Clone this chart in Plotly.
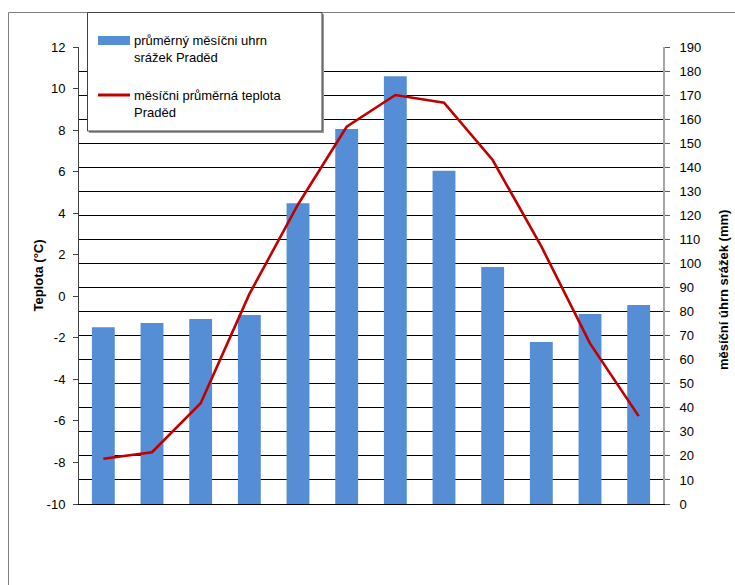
import plotly.graph_objects as go

# Monthly climate normals for Praděd
months = ["I", "II", "III", "IV", "V", "VI", "VII", "VIII", "IX", "X", "XI", "XII"]
precip_mm = [73.5, 75.3, 76.9, 78.6, 125.0, 155.9, 177.8, 138.5, 98.5, 67.4, 79.0, 82.7]
temp_c = [-7.82, -7.51, -5.15, 0.1, 4.42, 8.16, 9.69, 9.32, 6.56, 2.4, -2.27, -5.77]

temp_ticks = [-10, -8, -6, -4, -2, 0, 2, 4, 6, 8, 10, 12]
temp_tick_text = ["-10", "-8", "-6", "-4", "-2", "0", "2", "4", "6", "8", "10", "12"]

precip_label = "průměrný měsíčni uhrn srážek Praděd"
temp_label = "měsíčni průměrná teplota Praděd"

W, H = 735, 585
ML, MR, MT, MB = 79, 72, 47, 81
PW, PH = W - ML - MR, H - MT - MB

BAR_COLOR = "#558ed5"
LINE_COLOR = "#c00000"
FONT = "Liberation Sans, Arial, sans-serif"


def px_x(p):
    return (p - ML) / PW


def px_y(p):
    return (H - MB - p) / PH


fig = go.Figure()

fig.add_trace(go.Bar(
    x=months, y=precip_mm, name=precip_label,
    marker=dict(color=BAR_COLOR, line=dict(width=0)),
    width=0.47, yaxis="y", showlegend=False,
))

fig.add_trace(go.Scatter(
    x=months, y=temp_c, name=temp_label, mode="lines",
    line=dict(color=LINE_COLOR, width=2.6), yaxis="y2", showlegend=False,
))

shapes = [
    # outer chart frame
    dict(type="rect", xref="paper", yref="paper",
         x0=px_x(8.5), x1=px_x(745), y0=px_y(595), y1=px_y(12.5),
         line=dict(color="#7f7f7f", width=1), fillcolor="rgba(0,0,0,0)", layer="below"),
    # legend box with shadow
    dict(type="rect", xref="paper", yref="paper",
         x0=px_x(89), x1=px_x(324), y0=px_y(133), y1=px_y(14),
         line=dict(width=0), fillcolor="#9a9a9a", layer="above"),
    dict(type="rect", xref="paper", yref="paper",
         x0=px_x(87.5), x1=px_x(322), y0=px_y(131), y1=px_y(12.5),
         line=dict(color="#404040", width=1), fillcolor="white", layer="above"),
    # legend swatches
    dict(type="rect", xref="paper", yref="paper",
         x0=px_x(98), x1=px_x(130), y0=px_y(45), y1=px_y(36),
         line=dict(width=0), fillcolor=BAR_COLOR, layer="above"),
    dict(type="line", xref="paper", yref="paper",
         x0=px_x(98), x1=px_x(130), y0=px_y(95), y1=px_y(95),
         line=dict(color=LINE_COLOR, width=3), layer="above"),
]

annotations = [
    dict(xref="paper", yref="paper", x=px_x(132), y=px_y(49),
         text="průměrný měsíčni uhrn<br>srážek Praděd", showarrow=False,
         xanchor="left", yanchor="middle", align="left",
         font=dict(family=FONT, size=13, color="black")),
    dict(xref="paper", yref="paper", x=px_x(132), y=px_y(104),
         text="měsíčni průměrná teplota<br>Praděd", showarrow=False,
         xanchor="left", yanchor="middle", align="left",
         font=dict(family=FONT, size=13, color="black")),
    # right axis title
    dict(xref="paper", yref="paper", x=px_x(723), y=px_y(290),
         text="<b>měsíční úhrn srážek (mm)</b>", showarrow=False, textangle=-90,
         xanchor="center", yanchor="middle",
         font=dict(family=FONT, size=13, color="black")),
]

fig.update_layout(
    width=W, height=H,
    margin=dict(l=ML, r=MR, t=MT, b=MB, pad=0),
    paper_bgcolor="white", plot_bgcolor="white",
    font=dict(family=FONT, size=13, color="black"),
    showlegend=False,
    shapes=shapes, annotations=annotations,
    xaxis=dict(
        type="category", range=[-0.5, 11.5],
        showticklabels=False, ticks="", showgrid=False,
        showline=True, linecolor="black", linewidth=1, zeroline=False,
    ),
    yaxis=dict(
        side="right", range=[0, 190], dtick=10, tick0=0,
        showgrid=True, gridcolor="black", gridwidth=1,
        showline=True, linecolor="#a6a6a6", linewidth=2,
        ticks="outside", ticklen=5, tickcolor="#595959",
        ticklabelstandoff=7, zeroline=False,
    ),
    yaxis2=dict(
        side="left", overlaying="y", range=[-10, 12],
        tickmode="array", tickvals=temp_ticks, ticktext=temp_tick_text,
        showgrid=False, zeroline=False,
        showline=True, linecolor="#404040", linewidth=1,
        ticks="outside", ticklen=5, tickcolor="#404040",
        ticklabelstandoff=5,
        title=dict(text="<b>Teplota (°C)</b>", standoff=0,
                   font=dict(family=FONT, size=13)),
    ),
)

fig.write_html("out.html")
